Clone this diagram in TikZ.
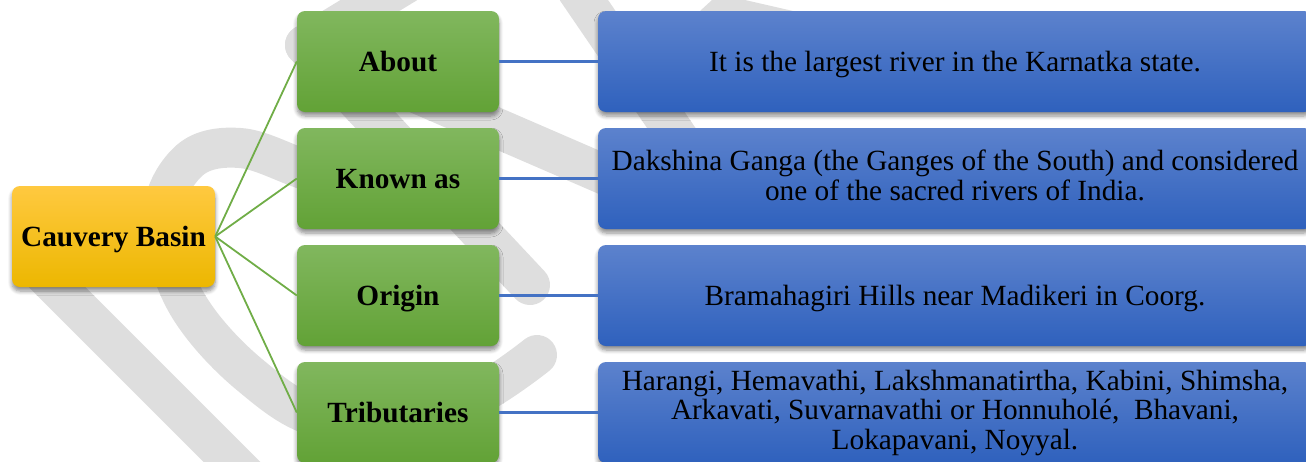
\documentclass[tikz,border=0pt]{standalone}
\usepackage{fontspec}
\setmainfont{Liberation Serif}
\usetikzlibrary{shadows.blur}

\definecolor{wm}{RGB}{222,222,222}
\definecolor{orT}{RGB}{255,201,64}
\definecolor{orB}{RGB}{236,183,0}
\definecolor{grT}{RGB}{129,183,94}
\definecolor{grB}{RGB}{98,162,54}
\definecolor{blT}{RGB}{92,130,205}
\definecolor{blB}{RGB}{47,97,189}
\definecolor{grLine}{RGB}{112,173,71}
\definecolor{blLine}{RGB}{68,114,196}

% line strut with the font's full ascent and descent
\newcommand\lineprop{\rule[-0.216em]{0pt}{1.107em}}

\begin{document}
\begin{tikzpicture}[x=1pt,y=-1pt,
  box/.style={rectangle, rounded corners=8pt, minimum height=101pt,
    inner sep=0pt, align=center,
    font=\fontsize{29.3}{29.5}\selectfont,
    execute at begin node=\lineprop, execute at end node=\lineprop,
    blur shadow={shadow xshift=0pt, shadow yshift=-4pt,
      shadow blur steps=6, shadow blur radius=4pt, shadow opacity=45}},
  cbox/.style={box, minimum width=203pt, top color=orT, bottom color=orB},
  gbox/.style={box, minimum width=202pt, top color=grT, bottom color=grB},
  bbox/.style={box, minimum width=714pt, top color=blT, bottom color=blB},
  gline/.style={grLine, line width=1.8pt},
  bline/.style={blLine, line width=2.4pt},
  mark stroke/.style={wm, line width=40pt, line cap=round, line join=round}
]
\useasboundingbox (0,0) rectangle (1306,461);
\clip (0,0) rectangle (1306,461);

% faint background emblem
\draw[mark stroke] (420,-25) -- (305,45) -- (640,190);
\draw[mark stroke] (305,45) -- (530,285);
\draw[mark stroke] (577,-10) -- (700,170);
\fill[wm] (700,11) -- (712,0) -- (745,0) -- (793,11) -- cycle;
\draw[mark stroke] plot[smooth, tension=0.6] coordinates
  {(537,355) (450,408) (330,420) (250,375) (185,300) (163,215)
   (190,160) (240,148) (300,168) (380,200)};
\draw[mark stroke] (40,270) -- (250,480);

% root
\node[cbox] (cb) at (113.5,236.5) {\bfseries Cauvery Basin};

% headings
\node[gbox] (g1) at (398,61.5)  {\bfseries About};
\node[gbox] (g2) at (398,178.5) {\bfseries Known as};
\node[gbox] (g3) at (398,295.5) {\bfseries Origin};
\node[gbox] (g4) at (398,412.5) {\bfseries Tributaries};

% descriptions
\node[bbox] (b1) at (955,61.5)  {It is the largest river in the Karnatka state.};
\node[bbox] (b2) at (955,178.5) {Dakshina Ganga (the Ganges of the South) and considered\\one of the sacred rivers of India.};
\node[bbox] (b3) at (955,295.5) {Bramahagiri Hills near Madikeri in Coorg.};
\node[bbox] (b4) at (955,412.5) {Harangi, Hemavathi, Lakshmanatirtha, Kabini, Shimsha,\\Arkavati, Suvarnavathi or Honnuholé, \ Bhavani,\\Lokapavani, Noyyal.};

% connectors
\foreach \i in {1,...,4} {
  \draw[gline] (cb.east) -- (g\i.west);
  \draw[bline] (g\i.east) -- (b\i.west);
}
\end{tikzpicture}
\end{document}
